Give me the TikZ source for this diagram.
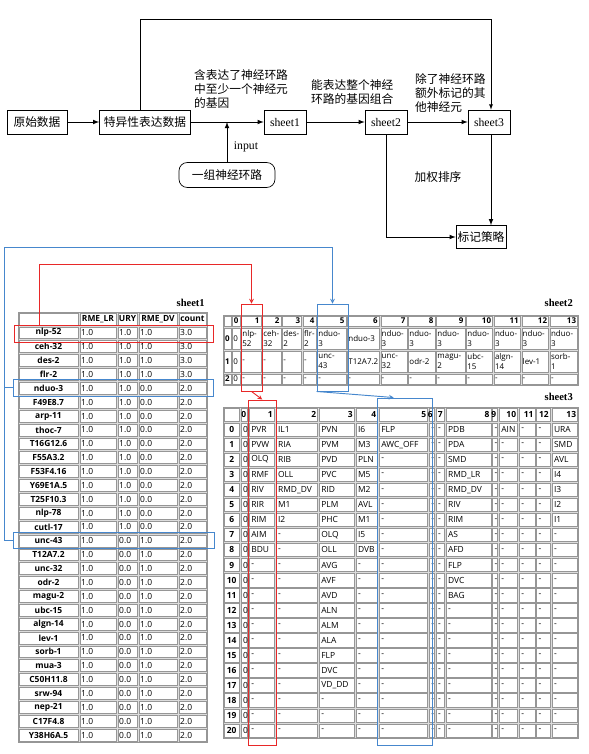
\documentclass[tikz,border=0pt]{standalone}
\usepackage{fontspec}
\setmainfont{Liberation Serif}
\newfontfamily\cjk{Noto Sans CJK SC}
\newfontfamily\tabfont{Open Sans}
\usetikzlibrary{fit}

\definecolor{hlred}{RGB}{232,40,40}
\definecolor{hlblue}{RGB}{70,135,205}
\definecolor{cellline}{RGB}{150,150,150}
\definecolor{tabgray}{RGB}{220,220,220}

\tikzset{
  flowbox/.style={draw, semithick, minimum height=0.72cm, inner sep=1pt, font=\cjk\fontsize{10}{12}\selectfont},
  sheetbox/.style={draw, semithick, minimum width=1.26cm, minimum height=0.72cm, inner sep=1pt, font=\fontsize{10}{12}\selectfont},
  flowarr/.style={thick, -latex},
  note/.style={anchor=north west, align=left, inner sep=0pt, font=\cjk\fontsize{10}{12}\selectfont},
  tabbg/.style={draw=cellline, fill=tabgray, line width=0.6pt},
  tcell/.style={draw=cellline, fill=white, line width=0.5pt},
  celltxt/.style={anchor=west, align=left, inner sep=0pt, font=\tabfont\fontsize{7.2}{8.5}\selectfont},
  headtxt/.style={inner sep=0pt, font=\tabfont\bfseries\fontsize{7.2}{8.5}\selectfont},
  sheettitle/.style={anchor=east, inner sep=0pt, font=\bfseries\fontsize{9}{10}\selectfont},
  redhl/.style={draw=hlred, line width=0.8pt, inner sep=0pt},
  bluehl/.style={draw=hlblue, line width=0.8pt, inner sep=0pt},
  redarr/.style={draw=hlred, line width=0.8pt, -stealth},
  bluearr/.style={draw=hlblue, line width=0.8pt, -stealth}
}

% column edges of sheet2 and sheet3
\def\twox{{223.3,231.7,240.7,261.7,281.7,302.3,316.7,346.7,380,407.7,435.7,465.7,493.3,521,549.3,578.3}}
\def\twoy{{315,327,350,373,385}}
\def\threex{{223.3,240,248.3,275,318.3,355,378.3,428.3,435,445,491.7,498.3,518.3,535.7,551,578.3}}

\begin{document}
\begin{tikzpicture}[x=0.03cm, y=-0.03cm]
\useasboundingbox (0,0) rectangle (589,754);

% flow chart
\node[flowbox, minimum width=1.8cm] (raw) at (37,122) {原始数据};
\node[flowbox, minimum width=2.73cm] (spec) at (145,122) {特异性表达数据};
\node[sheetbox] (s1) at (285,122) {sheet1};
\node[sheetbox] (s2) at (386,122) {sheet2};
\node[sheetbox] (s3) at (489,122) {sheet3};
\node[flowbox, minimum width=1.5cm, minimum height=0.69cm] (mark) at (481,237) {标记策略};
\node[flowbox, rounded corners=0.25cm, minimum width=2.88cm, minimum height=0.75cm] (grp) at (227,175) {一组神经环路};

\node[note] (note1) at (194,69) {含表达了神经环路\\中至少一个神经元\\的基因};
\node[note] (note2) at (311,79) {能表达整个神经\\环路的基因组合};
\node[note] (note3) at (415,73) {除了神经环路\\额外标记的其\\他神经元};
\node[inner sep=0pt, font=\fontsize{10}{12}\selectfont] (inlab) at (246,147) {input};
\node[inner sep=0pt, font=\cjk\fontsize{10}{12}\selectfont] (wlab) at (438,177) {加权排序};

\coordinate (join) at (grp.north |- spec.east);
\draw[flowarr] (raw) -- (spec);
\draw[flowarr] (spec) -- (s1);
\draw[flowarr] (s1) -- (s2);
\draw[flowarr] (s2) -- (s3);
\draw[flowarr] (grp) -- (join);
\draw[semithick, -latex] ([xshift=-0.15cm]spec.north) -- ++(0,-90) -| ([xshift=0.06cm]s3.north);
\draw[flowarr] ([xshift=0.06cm]s3.south) -- ([xshift=0.06cm]s3.south |- mark.north);
\draw[flowarr] (s2.south) |- (mark.west);

% sheet1
\node[sheettitle] (t1) at (205,303) {sheet1};
\draw[tabbg] (18,312) rectangle (207,742);
\foreach [count=\cc] \xa/\xb/\hd in {18/79/{},79/117/RME\_LR,117/138/URY,138/178/RME\_DV,178/207/count} {
  \draw[tcell] ({\xa+1},313) rectangle ({\xb-1},325);
  \node[headtxt] (h1-\cc) at ({(\xa+\xb)/2},319) {\hd};
}
\foreach [count=\rowi] \gn/\va/\vb/\vc/\vd in {
  nlp-52/1.0/1.0/1.0/3.0, ceh-32/1.0/1.0/1.0/3.0, des-2/1.0/1.0/1.0/3.0, flr-2/1.0/1.0/1.0/3.0,
  nduo-3/1.0/1.0/0.0/2.0, F49E8.7/1.0/1.0/0.0/2.0, arp-11/1.0/1.0/0.0/2.0, thoc-7/1.0/1.0/0.0/2.0,
  T16G12.6/1.0/1.0/0.0/2.0, F55A3.2/1.0/1.0/0.0/2.0, F53F4.16/1.0/1.0/0.0/2.0, Y69E1A.5/1.0/1.0/0.0/2.0,
  T25F10.3/1.0/1.0/0.0/2.0, nlp-78/1.0/1.0/0.0/2.0, cutl-17/1.0/1.0/0.0/2.0,
  unc-43/1.0/0.0/1.0/2.0, T12A7.2/1.0/0.0/1.0/2.0, unc-32/1.0/0.0/1.0/2.0, odr-2/1.0/0.0/1.0/2.0,
  magu-2/1.0/0.0/1.0/2.0, ubc-15/1.0/0.0/1.0/2.0, algn-14/1.0/0.0/1.0/2.0, lev-1/1.0/0.0/1.0/2.0,
  sorb-1/1.0/0.0/1.0/2.0, mua-3/1.0/0.0/1.0/2.0, C50H11.8/1.0/0.0/1.0/2.0, srw-94/1.0/0.0/1.0/2.0,
  nep-21/1.0/0.0/1.0/2.0, C17F4.8/1.0/0.0/1.0/2.0, Y38H6A.5/1.0/0.0/1.0/2.0} {
  \pgfmathsetmacro\ya{312+\rowi*13.87}
  \pgfmathsetmacro\ym{\ya+6.93}
  \foreach \xa/\xb in {18/79,79/117,117/138,138/178,178/207}
    \draw[tcell] ({\xa+1},{\ya+1}) rectangle ({\xb-1},{\ya+12.9});
  \node[headtxt] (g\rowi) at (48.5,\ym) {\gn};
  \node[celltxt] (a\rowi) at (81,\ym) {\va};
  \node[celltxt] (b\rowi) at (119,\ym) {\vb};
  \node[celltxt] (c\rowi) at (140,\ym) {\vc};
  \node[celltxt] (d\rowi) at (180,\ym) {\vd};
}

% sheet2
\node[sheettitle] (t2) at (573,303) {sheet2};
\draw[tabbg] (223.3,315) rectangle (578.3,385);
\foreach \rr in {0,...,3}
  \foreach \jj in {0,...,14} {
    \pgfmathsetmacro\xa{\twox[\jj]}
    \pgfmathsetmacro\xb{\twox[\jj+1]}
    \pgfmathsetmacro\ya{\twoy[\rr]}
    \pgfmathsetmacro\yb{\twoy[\rr+1]}
    \draw[tcell] ({\xa+0.8},{\ya+0.8}) rectangle ({\xb-0.8},{\yb-0.8});
  }
\foreach \jj in {1,...,14} {
  \pgfmathtruncatemacro\hn{\jj-1}
  \pgfmathsetmacro\xb{\twox[\jj+1]}
  \node[headtxt, anchor=east, font=\tabfont\bfseries\fontsize{6.8}{8}\selectfont] (h2-\jj) at ({\xb-2},321) {\hn};
}
\foreach [count=\rr from 0] \rowlist in {
  {0,nlp-\\52,ceh-\\32,des-\\2,flr-\\2,nduo-\\3,nduo-3,nduo-\\3,nduo-\\3,nduo-\\3,nduo-\\3,nduo-\\3,nduo-\\3,nduo-\\3},
  {0,-,-,-,-,unc-\\43,T12A7.2,unc-\\32,odr-2,magu-\\2,ubc-\\15,algn-\\14,lev-1,sorb-\\1},
  {0,-,-,-,-,-,-,-,-,-,-,-,-,-}} {
  \pgfmathsetmacro\ya{\twoy[\rr+1]}
  \pgfmathsetmacro\yb{\twoy[\rr+2]}
  \pgfmathsetmacro\ym{(\ya+\yb)/2}
  \node[headtxt, font=\tabfont\bfseries\fontsize{6.8}{8}\selectfont] (i2-\rr) at (227.5,\ym) {\rr};
  \foreach [count=\jj] \txt in \rowlist {
    \pgfmathsetmacro\xa{\twox[\jj]}
    \node[celltxt, font=\tabfont\fontsize{6.8}{8.5}\selectfont] (c2-\rr-\jj) at ({\xa+1.5},\ym) {\txt};
  }
}

% sheet3
\node[sheettitle] (t3) at (573,397) {sheet3};
\draw[tabbg] (223.3,407) rectangle (578.3,738.1);
\foreach \rr in {0,...,21}
  \foreach \jj in {0,...,14} {
    \pgfmathsetmacro\xa{\threex[\jj]}
    \pgfmathsetmacro\xb{\threex[\jj+1]}
    \pgfmathsetmacro\ya{407+\rr*15.05}
    \draw[tcell] ({\xa+0.8},{\ya+0.8}) rectangle ({\xb-0.8},{\ya+14.25});
  }
\foreach \jj in {1,...,14} {
  \pgfmathtruncatemacro\hn{\jj-1}
  \pgfmathsetmacro\xb{\threex[\jj+1]}
  \node[headtxt, anchor=east] (h3-\jj) at ({\xb-2},414.5) {\hn};
}
\foreach [count=\rr from 0] \rowlist in {
  {0,PVR,IL1,PVN,I6,FLP,-,-,PDB,-,AIN,-,-,URA},
  {0,PVW,RIA,PVM,M3,AWC\_OFF,-,-,PDA,-,-,-,-,SMD},
  {0,OLQ,RIB,PVD,PLN,-,-,-,SMD,-,-,-,-,AVL},
  {0,RMF,OLL,PVC,M5,-,-,-,RMD\_LR,-,-,-,-,I4},
  {0,RIV,RMD\_DV,RID,M2,-,-,-,RMD\_DV,-,-,-,-,I3},
  {0,RIR,M1,PLM,AVL,-,-,-,RIV,-,-,-,-,I2},
  {0,RIM,I2,PHC,M1,-,-,-,RIM,-,-,-,-,I1},
  {0,AIM,-,OLQ,I5,-,-,-,AS,-,-,-,-,-},
  {0,BDU,-,OLL,DVB,-,-,-,AFD,-,-,-,-,-},
  {0,-,-,AVG,-,-,-,-,FLP,-,-,-,-,-},
  {0,-,-,AVF,-,-,-,-,DVC,-,-,-,-,-},
  {0,-,-,AVD,-,-,-,-,BAG,-,-,-,-,-},
  {0,-,-,ALN,-,-,-,-,-,-,-,-,-,-},
  {0,-,-,ALM,-,-,-,-,-,-,-,-,-,-},
  {0,-,-,ALA,-,-,-,-,-,-,-,-,-,-},
  {0,-,-,FLP,-,-,-,-,-,-,-,-,-,-},
  {0,-,-,DVC,-,-,-,-,-,-,-,-,-,-},
  {0,-,-,VD\_DD,-,-,-,-,-,-,-,-,-,-},
  {0,-,-,-,-,-,-,-,-,-,-,-,-,-},
  {0,-,-,-,-,-,-,-,-,-,-,-,-,-},
  {0,-,-,-,-,-,-,-,-,-,-,-,-,-}} {
  \pgfmathsetmacro\ym{407+(\rr+1)*15.05+7.5}
  \node[headtxt] (i3-\rr) at (231.7,\ym) {\rr};
  \foreach [count=\jj] \txt in \rowlist {
    \pgfmathsetmacro\xa{\threex[\jj]}
    \node[celltxt] (c3-\rr-\jj) at ({\xa+2.8},\ym) {\txt};
  }
}

% highlights
\node[redhl, fit={(14,325) (213,342)}] (redS1) {};
\node[bluehl, fit={(13,379) (213,396)}] (blueS1a) {};
\node[bluehl, fit={(13,532) (214,548)}] (blueS1b) {};
\node[redhl, fit={(241,304) (262,391)}] (redS2) {};
\node[bluehl, fit={(317,304) (348,391)}] (blueS2) {};
\node[redhl, fit={(248,400) (276.5,745)}] (redS3) {};
\node[bluehl, fit={(377.5,398) (432,745)}] (blueS3) {};

\draw[redarr] ([xshift=0.78cm]redS1.north west) -- ++(0,-60) -| (redS2.north);
\draw[bluearr] (blueS1a.west) -- ++(-8,0) -- ++(0,-140.5) -| (blueS2.north);
\draw[draw=hlblue, line width=0.8pt] (blueS1b.west) -| ([xshift=-0.24cm]blueS1a.west);
\draw[redarr] (redS2.south) -- (redS3.north);
\draw[bluearr] (blueS2.south west) -- ([xshift=0.5cm]blueS3.north west);

\end{tikzpicture}
\end{document}
